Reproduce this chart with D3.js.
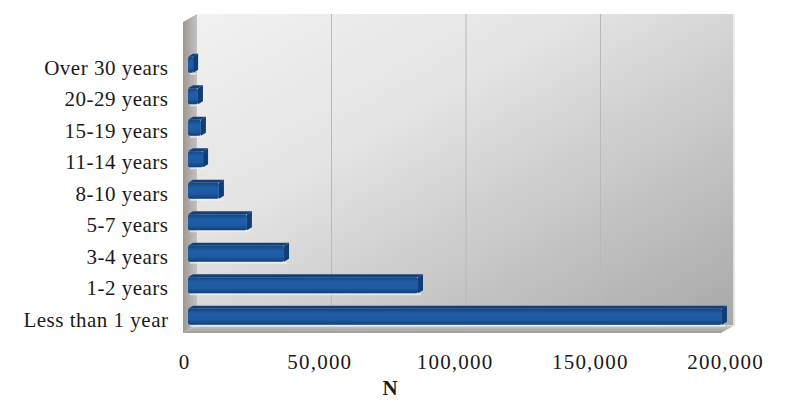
<!DOCTYPE html>
<html>
<head>
<meta charset="utf-8">
<script src="https://cdn.jsdelivr.net/npm/d3@7"></script>
<style>
html,body{margin:0;padding:0;background:#fff;}
svg{display:block;}
</style>
</head>
<body>
<svg id="chart" width="800" height="408"></svg>
<script>
const categories = ["Over 30 years","20-29 years","15-19 years","11-14 years","8-10 years","5-7 years","3-4 years","1-2 years","Less than 1 year"];
const values = [1900, 3700, 4800, 5600, 11500, 21900, 35700, 85500, 198500];
const tickValues = [0, 50000, 100000, 150000, 200000];
const axisTitle = "N";

const svg = d3.select("#chart");
const defs = svg.append("defs");

const wallGrad = defs.append("linearGradient").attr("id","wall").attr("x1","0").attr("y1","0").attr("x2","1").attr("y2","1");
wallGrad.append("stop").attr("offset","0").attr("stop-color","#f1f1f1");
wallGrad.append("stop").attr("offset","0.35").attr("stop-color","#e4e4e4");
wallGrad.append("stop").attr("offset","1").attr("stop-color","#a8a8a8");

const sideGrad = defs.append("linearGradient").attr("id","side").attr("x1","0").attr("y1","0").attr("x2","1").attr("y2","0");
sideGrad.append("stop").attr("offset","0").attr("stop-color","#9c9893");
sideGrad.append("stop").attr("offset","1").attr("stop-color","#c4c2c0");

const floorGrad = defs.append("linearGradient").attr("id","floor").attr("x1","0").attr("y1","0").attr("x2","0").attr("y2","1");
floorGrad.append("stop").attr("offset","0").attr("stop-color","#c8c8c8");
floorGrad.append("stop").attr("offset","1").attr("stop-color","#9e9e9e");

const barGrad = defs.append("linearGradient").attr("id","barFront").attr("x1","0").attr("y1","0").attr("x2","0").attr("y2","1");
barGrad.append("stop").attr("offset","0").attr("stop-color","#134582");
barGrad.append("stop").attr("offset","0.3").attr("stop-color","#1e5da6");
barGrad.append("stop").attr("offset","0.7").attr("stop-color","#1d5aa2");
barGrad.append("stop").attr("offset","1").attr("stop-color","#123f78");

// geometry
const dx = 14, dy = -8; // wall depth
const frontLeft = 183, frontRight = 721, frontTop = 22, frontBottom = 333;
const backLeft = frontLeft + dx, backRight = frontRight + dx, backTop = frontTop + dy, backBottom = frontBottom + dy;

const xBack = d3.scaleLinear().domain([0, 200000]).range([backLeft, backRight]);
const xBar = d3.scaleLinear().domain([0, 200000]).range([188, 726]);
const xTick = d3.scaleLinear().domain([0, 200000]).range([184, 725]);
const y = d3.scaleBand().domain(categories).range([51, 334.5]);

// back wall
svg.append("rect").attr("x", backLeft).attr("y", backTop).attr("width", backRight - backLeft).attr("height", backBottom - backTop).attr("fill","url(#wall)");
svg.append("line").attr("x1", backRight - 1).attr("x2", backRight - 1).attr("y1", backTop).attr("y2", backBottom).attr("stroke","#f4f4f4").attr("stroke-width",1.5);

// gridlines on back wall
svg.append("g").selectAll("line").data(tickValues.slice(1, -1)).join("line")
  .attr("x1", d => xBack(d)).attr("x2", d => xBack(d))
  .attr("y1", backTop).attr("y2", backBottom)
  .attr("stroke","#b9b9b9").attr("stroke-width",1);

// left side wall
svg.append("polygon")
  .attr("points", [[frontLeft, frontTop],[backLeft, backTop],[backLeft, backBottom],[frontLeft, frontBottom]].map(p => p.join(",")).join(" "))
  .attr("fill","url(#side)");

// floor
svg.append("polygon")
  .attr("points", [[frontLeft, frontBottom],[backLeft, backBottom],[backRight, backBottom],[frontRight, frontBottom]].map(p => p.join(",")).join(" "))
  .attr("fill","url(#floor)");
svg.append("line").attr("x1", backLeft).attr("x2", backRight).attr("y1", backBottom + 0.5).attr("y2", backBottom + 0.5).attr("stroke","#dcdcdc").attr("stroke-width",1);

// bars
const bh = 16, bdx = 5, bdy = -3;
const bars = svg.append("g").selectAll("g").data(categories.map((c, i) => ({c, v: values[i]}))).join("g");
bars.each(function(d) {
  const g = d3.select(this);
  const cy = y(d.c) + y.bandwidth() / 2 - 2;
  const x0 = xBar(0), x1 = xBar(d.v);
  const y0 = cy - bh / 2, y1 = cy + bh / 2;
  g.append("rect").attr("x", x0 + 2).attr("y", y1).attr("width", Math.max(0, x1 - x0 + bdx - 4)).attr("height", 2).attr("fill","#f2f2f2").attr("opacity",0.7);
  g.append("polygon").attr("points", [[x0, y0],[x1, y0],[x1 + bdx, y0 + bdy],[x0 + bdx, y0 + bdy]].map(p => p.join(",")).join(" "))
    .attr("fill","#163f78");
  g.append("polygon").attr("points", [[x1, y0],[x1 + bdx, y0 + bdy],[x1 + bdx, y1 + bdy],[x1, y1]].map(p => p.join(",")).join(" "))
    .attr("fill","#123d74");
  g.append("rect").attr("x", x0).attr("y", y0).attr("width", Math.max(1, x1 - x0)).attr("height", bh).attr("rx", 2)
    .attr("fill","url(#barFront)");
});

const serif = "'Liberation Serif', 'Times New Roman', serif";

// category labels
svg.append("g").selectAll("text").data(categories).join("text")
  .attr("x", 168.5).attr("y", d => y(d) + y.bandwidth() / 2 + 1)
  .attr("text-anchor","end").attr("dominant-baseline","central")
  .attr("font-family", serif).attr("font-size", 21).attr("letter-spacing", 0.5).attr("fill","#1a1a1a")
  .text(d => d);

// value axis labels
const fmt = d3.format(",");
svg.append("g").selectAll("text").data(tickValues).join("text")
  .attr("x", d => xTick(d) + 0.6).attr("y", 362)
  .attr("text-anchor","middle").attr("dominant-baseline","central")
  .attr("font-family", serif).attr("font-size", 21).attr("letter-spacing", 1.2).attr("fill","#1a1a1a")
  .text(d => fmt(d));

svg.append("text").attr("x", 390).attr("y", 388)
  .attr("text-anchor","middle").attr("dominant-baseline","central")
  .attr("font-family", serif).attr("font-size", 21).attr("font-weight","bold").attr("fill","#1a1a1a")
  .text(axisTitle);
</script>
</body>
</html>
